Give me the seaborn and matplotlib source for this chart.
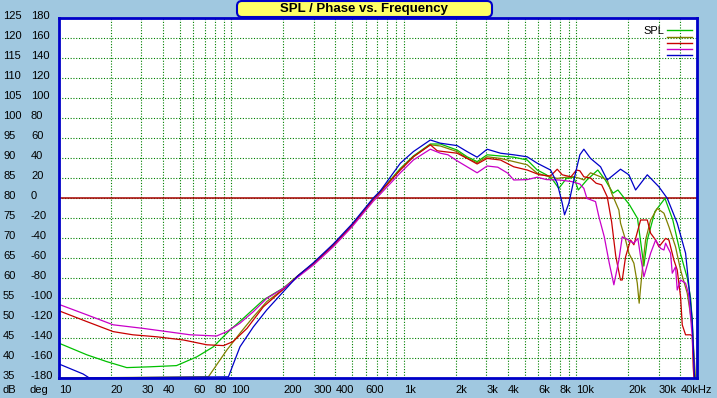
import numpy as np
import pandas as pd
import seaborn as sns
import matplotlib.pyplot as plt
from matplotlib.lines import Line2D
from matplotlib.patches import FancyBboxPatch
from matplotlib.transforms import IdentityTransform, ScaledTranslation

# curves (Hz, dB)
green_freq = [10, 14.5, 18.9, 24.7, 33.7, 48, 63, 78.5, 98, 117, 153, 200, 242, 300, 389, 500, 664, 730,
              953, 1134, 1422, 1626, 2032, 2323, 2656, 3036, 3626, 4331, 5182, 5923, 6700, 7300, 7900, 8750,
              9660, 10250, 11500, 13300, 14700, 16300, 17400, 20300, 22600, 24600, 25750, 28500, 32600,
              36200, 40150, 43900, 45900, 46900, 48400]
green_spl = [43.7, 40.8, 39.1, 37.6, 37.8, 38.1, 40.3, 42.8, 47.0, 49.9, 54.5, 57.5, 60.5, 63.7, 68.2, 73.2,
             79.7, 81.6, 87.4, 90.5, 93.5, 93.5, 92.0, 90.3, 89.1, 90.8, 90.5, 90.2, 89.5, 87.0, 85.8, 84.5,
             82.4, 84.9, 85.2, 82.0, 84.5, 87.0, 84.5, 81.2, 82.0, 78.3, 74.9, 63.0, 69.5, 76.6, 79.9,
             74.5, 66.0, 60.0, 55.0, 49.5, 35.0]

olive_freq = [10, 73.5, 94, 112, 134, 160, 200, 242, 300, 389, 500, 664, 730, 953, 1134, 1422, 1626, 2032,
              2323, 2656, 3036, 3626, 4331, 5182, 5923, 6700, 7737, 8750, 9660, 10465, 11040, 12070, 13800,
              15085, 16000, 17620, 18020, 19270, 20140, 21530, 22530, 23100, 24080, 25170, 26920, 29430,
              32150, 34370, 37550, 40150, 43890, 46920, 49000]
olive_spl = [35.0, 35.3, 42.0, 46.2, 50.3, 54.1, 57.2, 60.5, 63.6, 68.1, 73.1, 79.6, 81.4, 87.2, 90.3, 93.3,
             93.0, 91.6, 90.0, 88.8, 90.3, 89.9, 89.1, 88.3, 86.2, 85.5, 84.9, 85.2, 85.3, 84.9, 84.5, 86.3,
             85.3, 84.5, 81.2, 77.0, 73.7, 69.5, 66.2, 63.7, 58.7, 53.7, 62.0, 69.5, 74.5, 77.4,
             76.2, 72.8, 67.8, 62.0, 56.2, 48.0, 35.0]

red_freq = [10, 14.5, 20.6, 26.8, 36.9, 52.7, 72, 90, 102, 123, 153, 200, 242, 300, 389, 500, 664, 730,
            953, 1134, 1422, 1560, 2032, 2323, 2656, 3036, 3626, 4331, 5182, 6100, 7073, 7737, 8272, 9300,
            10000, 10465, 11040, 12070, 13000, 14000, 15085, 16000, 16900, 18000, 18430, 19270, 20600,
            21530, 23550, 25750, 26920, 28780, 30070, 32880, 34370, 36720, 38400, 40150, 41060, 42930,
            45890, 46920, 47530, 48000]
red_spl = [51.8, 49.1, 46.6, 45.8, 45.3, 44.5, 43.3, 43.1, 44.1, 47.4, 52.8, 57.2, 60.5, 63.7, 68.2, 73.2,
           79.7, 81.6, 87.0, 90.3, 93.3, 91.8, 91.2, 89.9, 88.5, 89.9, 89.5, 87.8, 87.0, 85.8, 85.5, 87.2,
           85.8, 85.3, 87.0, 86.8, 85.3, 85.0, 83.7, 83.3, 80.3, 74.0, 65.5, 59.5, 59.5, 65.3, 69.5,
           68.3, 74.5, 74.5, 71.2, 69.5, 67.8, 69.9, 69.5, 64.5, 62.0, 55.3, 48.3, 45.8,
           45.8, 45.5, 37.8, 35.0]

magenta_freq = [10, 14.5, 20.6, 30.8, 42.2, 57.6, 82, 94, 112, 134, 160, 200, 242, 300, 389, 500, 664, 730,
                953, 1134, 1422, 1626, 1800, 2032, 2323, 2656, 3036, 3500, 4000, 4331, 5182, 5923, 6700,
                8000, 9400, 10465, 11040, 11500, 12900, 13500, 14500, 15500, 16480, 17620, 18430, 20000,
                21530, 22700, 23550, 24610, 26920, 28780, 30760, 32150, 32880, 35140, 35930, 37550,
                38400, 40150, 42930, 44670, 47000, 48400]
magenta_spl = [53.4, 50.8, 48.3, 47.4, 46.6, 45.8, 45.5, 46.6, 48.7, 51.6, 54.9, 57.4, 60.2, 63.3, 67.8,
               72.8, 79.2, 81.0, 86.3, 89.5, 92.2, 91.2, 90.8, 89.3, 87.8, 86.3, 88.0, 87.7, 86.2, 84.5,
               84.6, 85.2, 84.6, 84.5, 84.1, 83.5, 82.4, 79.9, 79.1, 75.3, 70.3, 63.7, 58.3, 64.5, 70.3,
               69.5, 68.7, 69.9, 65.3, 60.3, 66.2, 69.5, 67.4, 67.0, 68.7, 66.2, 61.2, 62.8,
               57.0, 59.5, 58.7, 56.0, 45.0, 35.0]

blue_freq = [10, 13.8, 15, 96, 112, 134, 160, 200, 242, 300, 389, 500, 664, 730, 953, 1134, 1422, 1626,
             2032, 2323, 2656, 3036, 3626, 4331, 5182, 5923, 7073, 7737, 8272, 8531, 9036, 9660, 10465,
             11040, 12070, 13800, 15085, 18020, 20140, 22030, 25750, 30070, 33630, 38400, 42930, 45890,
             46920, 48400]
blue_spl = [38.5, 36.0, 35.0, 35.3, 42.8, 47.8, 52.0, 56.6, 60.5, 63.9, 68.5, 73.5, 80.0, 81.8, 88.7, 91.6,
            94.5, 93.7, 93.1, 91.6, 90.2, 92.2, 91.2, 90.8, 90.3, 88.7, 87.0, 83.7, 78.7, 75.8, 78.7, 84.5,
            90.8, 92.2, 89.9, 87.8, 84.5, 87.2, 85.8, 82.0, 85.8, 82.8, 79.9, 73.7, 66.2, 53.8,
            49.5, 35.0]

curve_names = ["green", "olive", "red", "magenta", "blue"]
curve_colors = ["#00C000", "#808000", "#C80000", "#C800C8", "#0000C8"]

xtick_pos = [10, 20, 30, 40, 60, 80, 100, 200, 300, 400, 600, 1000, 2000, 3000, 4000, 6000, 8000,
             10000, 20000, 30000, 40000]
xtick_text = ["10", "20", "30", "40", "60", "80", "100", "200", "300", "400", "600", "1k", "2k", "3k",
              "4k", "6k", "8k", "10k", "20k", "30k", "40kHz"]
db_ticks = list(range(35, 126, 5))
deg_ticks = list(range(-180, 181, 20))

bg = "#A0C8E0"
plt.rcParams["font.family"] = ["Liberation Sans", "DejaVu Sans"]
plt.rcParams["font.size"] = 8

frames = []
for name, f, s in zip(curve_names, [green_freq, olive_freq, red_freq, magenta_freq, blue_freq],
                      [green_spl, olive_spl, red_spl, magenta_spl, blue_spl]):
    frames.append(pd.DataFrame({"freq": f, "spl": s, "curve": name}))
df = pd.concat(frames, ignore_index=True)

fig = plt.figure(figsize=(7.17, 3.98), dpi=100)
fig.patch.set_facecolor(bg)
ax = fig.add_axes([59 / 717, 20 / 398, 638 / 717, 360 / 398])
ax.set_facecolor("white")
ax.set_xscale("log")

sns.lineplot(data=df, x="freq", y="spl", hue="curve", hue_order=curve_names,
             palette=dict(zip(curve_names, curve_colors)), estimator=None, sort=False,
             legend=False, linewidth=0.9, ax=ax, zorder=3)
ax.set_xlabel("")
ax.set_ylabel("")
ax.set_xlim(10, 50000)
ax.set_ylim(35, 125)

# gridlines at every 1..9 step of each decade, labels only on some
grid_freqs = [m * 10 ** d for d in range(1, 5) for m in range(1, 10) if m * 10 ** d <= 50000]
label_map = dict(zip(xtick_pos, xtick_text))
ax.set_xticks(grid_freqs, [label_map.get(g, "") for g in grid_freqs], ha="left")
ax.xaxis.set_minor_locator(plt.NullLocator())
ax.tick_params(axis="x", length=0, pad=4.8)

ax.set_yticks(db_ticks, [str(v) for v in db_ticks], ha="left")
ax.tick_params(axis="y", length=0, pad=40.3)

sec = ax.secondary_yaxis("left", functions=(lambda d: (d - 80) * 4, lambda p: p / 4 + 80))
sec.set_yticks(deg_ticks, [str(v) for v in deg_ticks], ha="left")
sec.tick_params(axis="y", length=0, pad=20.2)
sec.spines["left"].set_visible(False)

shift = ScaledTranslation(0, 2 / 72, fig.dpi_scale_trans)
for lbl in ax.get_yticklabels() + sec.get_yticklabels():
    lbl.set_transform(lbl.get_transform() + shift)

ax.grid(True, which="major", color="#008000", linestyle=(0, (1, 1.5)), linewidth=0.8, zorder=1)
ax.set_axisbelow(True)
ax.axhline(80, color="#A80000", linewidth=1.1, zorder=2)

for sp in ax.spines.values():
    sp.set_color("#0000C8")
    sp.set_linewidth(2)
    sp.set_zorder(5)

# legend block: "SPL" plus one short line per curve
handles = [Line2D([], [], color=c, linewidth=1) for c in curve_colors]
ax.legend(handles, [""] * 5, loc="upper right", bbox_to_anchor=(692 / 717, 1 - 28 / 398),
          bbox_transform=fig.transFigure, frameon=False, markerfirst=False, fontsize=3.5,
          handlelength=5.1, labelspacing=0.25, handletextpad=0, borderpad=0, borderaxespad=0)
fig.text(643 / 717, 1 - 31 / 398, "SPL", ha="left", va="center", fontsize=8)

fig.text(3 / 717, 1 - 384.7 / 398, "dB", ha="left", va="top")
fig.text(30 / 717, 1 - 384.7 / 398, "deg", ha="left", va="top")

# title badge
badge = FancyBboxPatch((237, 381), 255, 16, boxstyle="round,pad=0,rounding_size=5",
                       transform=IdentityTransform(), facecolor="#FFFF66", edgecolor="#0000C8",
                       linewidth=1.5)
fig.add_artist(badge)
fig.text(364.5 / 717, 1 - 9 / 398, "SPL / Phase vs. Frequency", ha="center", va="center",
         fontsize=9.5, fontweight="bold")

fig.savefig("out.png", dpi=100, facecolor=fig.get_facecolor())
